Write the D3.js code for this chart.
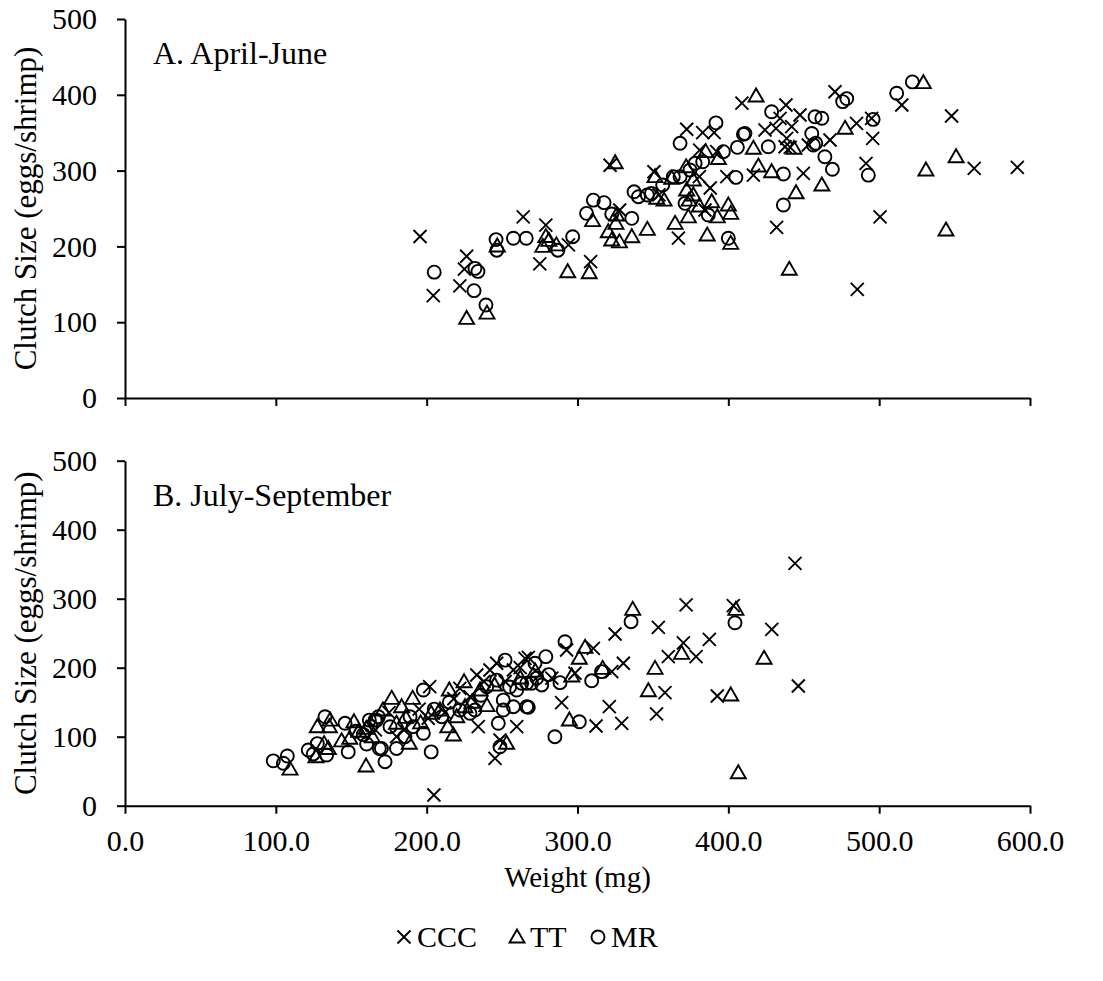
<!DOCTYPE html>
<html>
<head>
<meta charset="utf-8">
<script src="https://cdn.jsdelivr.net/npm/d3@7"></script>
<style>
  body { margin: 0; background: #fff; }
  text { font-family: "Liberation Serif", "Times New Roman", serif; fill: #000; }
</style>
</head>
<body>
<svg id="chart" width="1103" height="981"></svg>
<script>
// Tick values and labels
const xTicks = [0, 100, 200, 300, 400, 500, 600];
const yTicks = [0, 100, 200, 300, 400, 500];
const seriesNames = ["CCC", "TT", "MR"];
const panelTitles = ["A. April-June", "B. July-September"];

// Panel A (April-June): [weight mg, clutch size]
const cccA = [[195.6,213],[204.4,135],[222,148],[226.5,187],[225,170],[264,239],[275,177],[279,228],[294,202],[308.7,180],
  [321.6,307],[328,248],[350.7,298.5],[354,268],[380.8,292],[388,277],[366.9,211],[384.5,248],[372.4,354.5],[383,350],
  [390.6,350],[381,327],[392.3,325],[399,292],[409,389],[438.2,386.5],[447.5,373.4],[434.3,369],[470.7,404],[515,386.5],
  [548,372],[424.3,353.6],[431.6,355.8],[442,358],[438.7,342.6],[437.6,331.5],[441,330.7],[453,333.8],[467.4,340.4],[485,362.4],
  [495,369],[495.7,342.6],[416.6,294],[449.7,296.4],[432,225],[491.3,309.6],[500.6,239],[485.5,143.4],[563,303],[591.6,304.3]];
const ttA = [[226.5,105],[240,112],[246.8,200.5],[279,213],[281,208],[277,200],[286,202],[293.5,166.6],[307.8,165.3],[325,310.4],
  [310,234],[326,241.4],[325.5,230.4],[320.4,219.4],[322.7,208.4],[327.8,206],[336,212.8],[346.3,222.5],[351.4,292],[352.5,263.5],
  [357.4,261],[362.5,290],[372,305],[376.8,287.6],[372.4,274.4],[376.8,267.8],[374,261],[364.7,230.4],[373.5,239],[380.8,253.3],
  [389,259],[386,215],[392.7,239],[400,254.6],[401.6,243.6],[401.6,204],[385,325],[393.4,316],[418.4,398.4],[529.3,416],
  [443.5,329.4],[477.4,355.8],[416.6,329.4],[419.9,306],[428.7,298.5],[444.9,270.8],[462,281],[440.4,169.8],[531,300.8],[551,318.3],
  [544.3,221.6]];
const mrA = [[205,166],[232,171],[234,167],[231.4,141.6],[239.3,122.7],[246,209],[246.5,195],[257.5,210.7],[266,210.7],[287,195],
  [296.8,212.8],[310.5,261],[317.6,257.7],[306,243.6],[322.7,242.7],[336,237],[337.5,272],[340.4,265.6],[346.3,267.8],[349,270],
  [356.5,281],[363.5,292],[368,292],[374.6,300.8],[371.3,256.8],[386.7,241.4],[400,210.7],[368,336],[391.8,363],[383,311.7],
  [378,309.6],[396.7,325],[405,291],[406,330.7],[410,348],[428.7,377.7],[457.5,371],[462,369],[478.5,395],[475.8,391],
  [511.6,402],[522,417],[411,349],[455.3,349],[456.4,333.8],[458,336],[496,367.6],[426.5,331.5],[436.5,295.5],[464,318.3],
  [469,301.7],[436.5,254.6],[492.8,294]];

// Panel B (July-September): [weight mg, clutch size]
const cccB = [[202,172.5],[233.2,189.4],[234.2,114.5],[265.2,213.6],[259.7,114.5],[245.3,68.7],[248.6,95.2],[204.8,15.5],[324.9,248.8],[353.6,258.5],
  [372,291],[370.2,236],[360.2,216],[358,163.8],[352.4,133],[330.4,206.4],[322.7,194.3],[310.5,228],[292.8,225.7],[298.3,191.9],
  [289.5,149.3],[312.3,115.5],[321.1,143.5],[329.3,119.4],[444.2,351.3],[403.3,290],[428.8,255.6],[387.4,241],[378.6,216],[446.4,173.5],
  [392.7,159],[201,126.7],[228.7,158],[242,196.7],[257.5,196.7],[246.4,206.4],[267.4,215],[175,135],[185,110],[195,140],
  [212,135],[218,155],[222,170],[238,180],[252,180],[262,200],[275,190],[283,185],[166,110],[180,100]];
const ttB = [[109.4,53],[126.6,71],[132,90],[134.8,83],[127.5,114.5],[136,124],[135.5,114.5],[143.6,94],[151.8,121.7],[149,97.7],
  [159.8,57.5],[176.8,155.6],[190.7,155.6],[215,167.7],[224.8,179.7],[217.7,102.5],[253,90.4],[336.6,284.6],[369,220.8],[351.4,199],
  [347,166.7],[316.7,199],[305,229.5],[301.2,213.6],[296.2,188],[294.6,124.2],[405,284.6],[423.7,213.6],[401.6,160.4],[406.6,47.8],
  [171,138.7],[183.4,143.5],[180,119.4],[188.5,90.4],[203,133.9],[208.8,138.7],[214,114.5],[219.9,129],[225.4,143.5],[235.4,167.7],
  [155,108],[160,112],[164,100],[186,128],[196,120],[230,150],[245,175],[262,185],[272,195],[240,145]];
const mrB = [[98.3,65],[107.6,72],[105,61.5],[121.5,80.7],[127.5,90],[124.8,75],[133.7,73.5],[132.6,129],[145.9,119.4],[148,78],
  [160.2,89.4],[162,124],[166.8,124],[168.6,83],[172.4,63.8],[180,83],[170,83],[165.8,124],[203,78],[197.8,167.7],
  [252,211],[266.3,143.5],[247.5,119.4],[248.6,85.5],[250.8,138.7],[335.5,266.7],[316,194.3],[309.4,181],[291.7,237.7],[301.2,121.7],
  [285,100],[267.4,142.6],[279,216],[271.8,206.4],[288.4,178.3],[276.3,175],[269.6,177.4],[263,177.4],[404.4,265.2],[168,129],
  [175.7,114.5],[185.6,100],[191,114.5],[189,129],[197.8,105],[210,129],[222,138.7],[228.7,133.9],[232,138.7],[239.8,172.5],
  [246.4,182],[259.7,167.7],[266.3,177.4],[250.8,153],[257.5,143.5],[158,103],[163,115],[153,108],[205,140],[215,150],
  [236,160],[255,172],[273,185],[281,190]];

const svg = d3.select("#chart");
const x = d3.scaleLinear().domain([0, 600]).range([125, 1030]);
const yA = d3.scaleLinear().domain([0, 500]).range([398, 19]);
const yB = d3.scaleLinear().domain([0, 500]).range([805.7, 460.7]);

const FS = 30;
const stroke = 1.9;

// Marker shapes, centred on the data point
const markerPaths = {
  CCC: "M-6.5,-6.5L6.5,6.5M-6.5,6.5L6.5,-6.5",
  TT: "M0,-7.5L7.5,5.5L-7.5,5.5Z"
};

function drawMarker(g, type, cx, cy) {
  if (type === "MR") {
    g.append("circle").attr("cx", cx).attr("cy", cy).attr("r", 6.5)
      .attr("fill", "none").attr("stroke", "#000").attr("stroke-width", stroke);
  } else {
    g.append("path").attr("d", markerPaths[type])
      .attr("transform", `translate(${cx},${cy})`)
      .attr("fill", "none").attr("stroke", "#000").attr("stroke-width", stroke);
  }
}

function drawPanel(y, data, title, showXLabels) {
  const g = svg.append("g");

  const yAxis = d3.axisLeft(y).tickValues(yTicks).tickSize(8).tickSizeOuter(0).tickPadding(20)
    .tickFormat(d3.format("d"));
  const ga = g.append("g").attr("transform", `translate(${x(0)},0)`).call(yAxis);

  const xAxis = d3.axisBottom(x).tickValues(xTicks).tickSize(8).tickSizeOuter(0).tickPadding(16)
    .tickFormat(showXLabels ? d3.format(".1f") : () => "");
  const gx = g.append("g").attr("transform", `translate(0,${y(0)})`).call(xAxis);

  [ga, gx].forEach(a => {
    a.selectAll("path.domain").attr("stroke", "#000").attr("stroke-width", 2);
    a.selectAll(".tick line").attr("stroke", "#000").attr("stroke-width", 2);
    a.selectAll(".tick text").attr("font-size", FS).attr("font-family", "Liberation Serif").attr("fill", "#000");
  });

  // y-axis title
  g.append("text")
    .attr("transform", `translate(36,${(y(0) + y(500)) / 2}) rotate(-90)`)
    .attr("text-anchor", "middle").attr("font-size", 31)
    .text("Clutch Size (eggs/shrimp)");

  // panel title
  g.append("text").attr("x", 153).attr("y", y(500) + 45).attr("font-size", 32).text(title);

  const marks = g.append("g");
  seriesNames.forEach((name, i) => {
    data[i].forEach(d => drawMarker(marks, name, x(d[0]), y(d[1])));
  });
}

drawPanel(yA, [cccA, ttA, mrA], panelTitles[0], false);
drawPanel(yB, [cccB, ttB, mrB], panelTitles[1], true);

// x-axis title
svg.append("text").attr("x", (x(0) + x(600)) / 2).attr("y", 887)
  .attr("text-anchor", "middle").attr("font-size", 29).text("Weight (mg)");

// legend
const legendY = 937;
const legendX = [404, 517, 598];
const leg = svg.append("g");
seriesNames.forEach((name, i) => {
  drawMarker(leg, name, legendX[i], legendY);
  leg.append("text").attr("x", legendX[i] + 13).attr("y", legendY + 10)
    .attr("font-size", FS).text(name);
});
</script>
</body>
</html>
